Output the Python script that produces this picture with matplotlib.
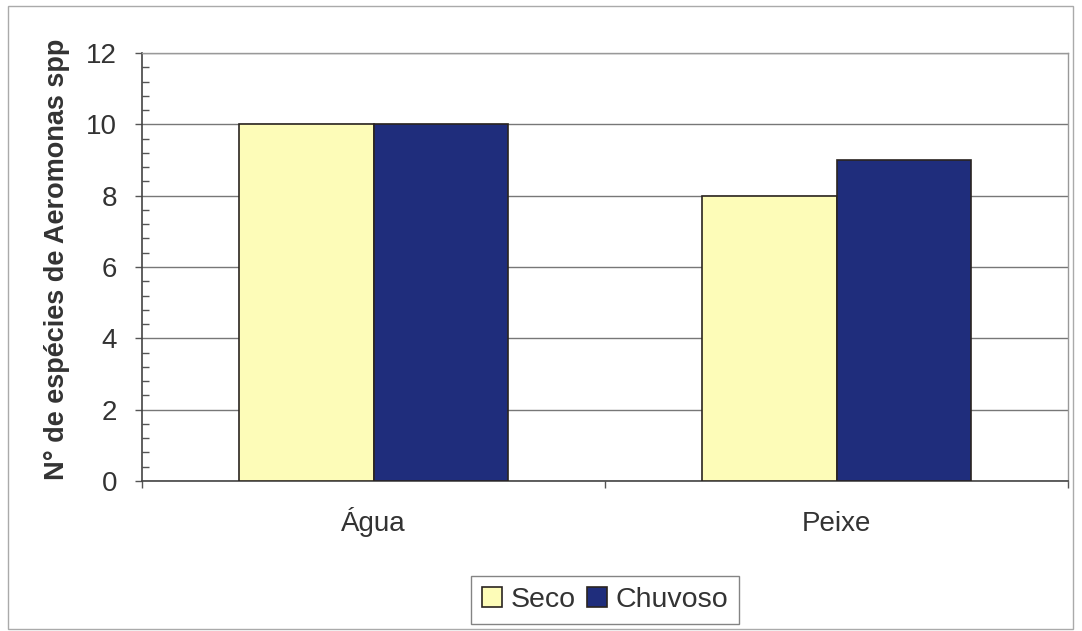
import numpy as np
import matplotlib.pyplot as plt
from matplotlib.patches import Rectangle
from matplotlib.ticker import MultipleLocator, FixedLocator, NullFormatter

categories = ['Água', 'Peixe']
seco = [10, 8]
chuvoso = [10, 9]
series_names = ['Seco', 'Chuvoso']
yticks = [0, 2, 4, 6, 8, 10, 12]

plt.rcParams['font.family'] = ['Liberation Sans', 'DejaVu Sans']
text_color = '#333333'
yellow = '#fdfcb8'
navy = '#1f2d7c'
edge = '#2a2420'

W, H = 1082, 631
fig = plt.figure(figsize=(W / 100, H / 100), dpi=100)
ax = fig.add_axes([142 / W, 1 - 481 / H, (1068 - 142) / W, (481 - 53) / H])

x = np.arange(len(categories))
width = 0.29
ax.bar(x - width / 2, seco, width, color=yellow, edgecolor=edge, linewidth=1.2,
       label=series_names[0], zorder=3)
ax.bar(x + width / 2, chuvoso, width, color=navy, edgecolor=edge, linewidth=1.2,
       label=series_names[1], zorder=3)

ax.set_xlim(-0.5, 1.5)
ax.set_ylim(0, 12)
ax.set_yticks(yticks)
ax.yaxis.set_minor_locator(MultipleLocator(0.4))
ax.tick_params(axis='y', which='major', direction='out', length=5, width=1,
               color='#555555', labelsize=20, labelcolor=text_color, pad=13)
ax.tick_params(axis='y', which='minor', direction='in', length=5, width=1,
               color='#555555')
ax.yaxis.grid(True, color='#777777', linewidth=1, zorder=0)

ax.set_xticks(x)
ax.set_xticklabels(categories, va='baseline')
ax.xaxis.set_minor_locator(FixedLocator([-0.5, 0.5, 1.5]))
ax.xaxis.set_minor_formatter(NullFormatter())
ax.tick_params(axis='x', which='major', length=0, labelsize=20,
               labelcolor=text_color, pad=36)
ax.tick_params(axis='x', which='minor', direction='out', length=5, width=1,
               color='#555555')

for side in ['left', 'bottom']:
    ax.spines[side].set_color('#444444')
    ax.spines[side].set_linewidth(1.2)
for side in ['top', 'right']:
    ax.spines[side].set_color('#999999')
    ax.spines[side].set_linewidth(1)

ax.set_ylabel('N° de espécies de Aeromonas spp', fontsize=19.5, fontweight='bold',
              color=text_color)
ax.yaxis.set_label_coords((70 - 142) / (1068 - 142), (481 - 259) / (481 - 53))

leg = fig.legend(loc='center', bbox_to_anchor=(605 / W, 1 - 600 / H), ncol=2,
                 fontsize=20.5, frameon=True, fancybox=False, handlelength=0.7,
                 handleheight=0.7, handletextpad=0.3, columnspacing=0.4,
                 borderpad=0.4, labelcolor=text_color)
leg.get_frame().set_edgecolor('#666666')
leg.get_frame().set_linewidth(1)

fig.patches.append(Rectangle((8 / W, 1 - 629 / H), (W - 9) / W - 8 / W, (629 - 6) / H,
                             transform=fig.transFigure, fill=False,
                             edgecolor='#aaaaaa', linewidth=1))

fig.savefig('out.png', dpi=100)
